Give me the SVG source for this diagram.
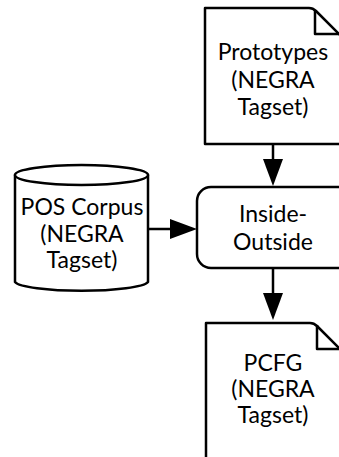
<svg xmlns="http://www.w3.org/2000/svg" width="339" height="457" viewBox="0 0 339 457">
  <style>
    .shape { fill: #ffffff; stroke: #000000; stroke-width: 2.5; stroke-linejoin: round; }
    .fold { fill: none; stroke: #000000; stroke-width: 2.5; stroke-linejoin: round; }
    .label { font-family: Lato, "Open Sans", "DejaVu Sans", sans-serif; font-size: 23px; fill: #000000; text-anchor: middle; }
    .edge { fill: none; stroke: #000000; stroke-width: 2.5; }
  </style>
  <defs>
    <marker id="arrowhead" markerUnits="userSpaceOnUse" viewBox="0 0 27 20" refX="22" refY="10" markerWidth="27" markerHeight="20" orient="auto">
      <path d="M0,0 L27,10 L0,20 Z" fill="#000000"/>
    </marker>
  </defs>

  <rect width="339" height="457" fill="#ffffff"/>

  <!-- document: Prototypes -->
  <g id="prototypes">
    <path class="shape" d="M205,8 H309 Q313,8 316,11 L342,37 V144 H205 Z"/>
    <path class="fold" d="M315,10 V34 H342"/>
    <text class="label" x="273" y="60">Prototypes</text>
    <text class="label" x="273" y="88">(NEGRA</text>
    <text class="label" x="273" y="115">Tagset)</text>
  </g>

  <!-- database: POS Corpus -->
  <g id="pos-corpus">
    <path class="shape" d="M15,175 V282 A67,10 0 0 0 148,282 V175 Z"/>
    <ellipse class="shape" cx="81.5" cy="175" rx="66.5" ry="10"/>
    <text class="label" x="82" y="215">POS Corpus</text>
    <text class="label" x="82" y="242">(NEGRA</text>
    <text class="label" x="82" y="268">Tagset)</text>
  </g>

  <!-- process: Inside-Outside -->
  <g id="inside-outside">
    <rect class="shape" x="197" y="187" width="165" height="81" rx="14" ry="14"/>
    <text class="label" x="273" y="222">Inside-</text>
    <text class="label" x="273" y="250">Outside</text>
  </g>

  <!-- document: PCFG -->
  <g id="pcfg">
    <path class="shape" d="M206,323 H310 Q314,323 317,326 L343,352 V470 H206 Z"/>
    <path class="fold" d="M317,325 V349 H343"/>
    <text class="label" x="273" y="371">PCFG</text>
    <text class="label" x="273" y="397">(NEGRA</text>
    <text class="label" x="273" y="423">Tagset)</text>
  </g>

  <!-- connectors -->
  <g id="connectors">
    <line class="edge" x1="273" y1="145" x2="273" y2="181" marker-end="url(#arrowhead)"/>
    <line class="edge" x1="149" y1="229" x2="192" y2="229" marker-end="url(#arrowhead)"/>
    <line class="edge" x1="273" y1="269" x2="273" y2="315" marker-end="url(#arrowhead)"/>
  </g>
</svg>
